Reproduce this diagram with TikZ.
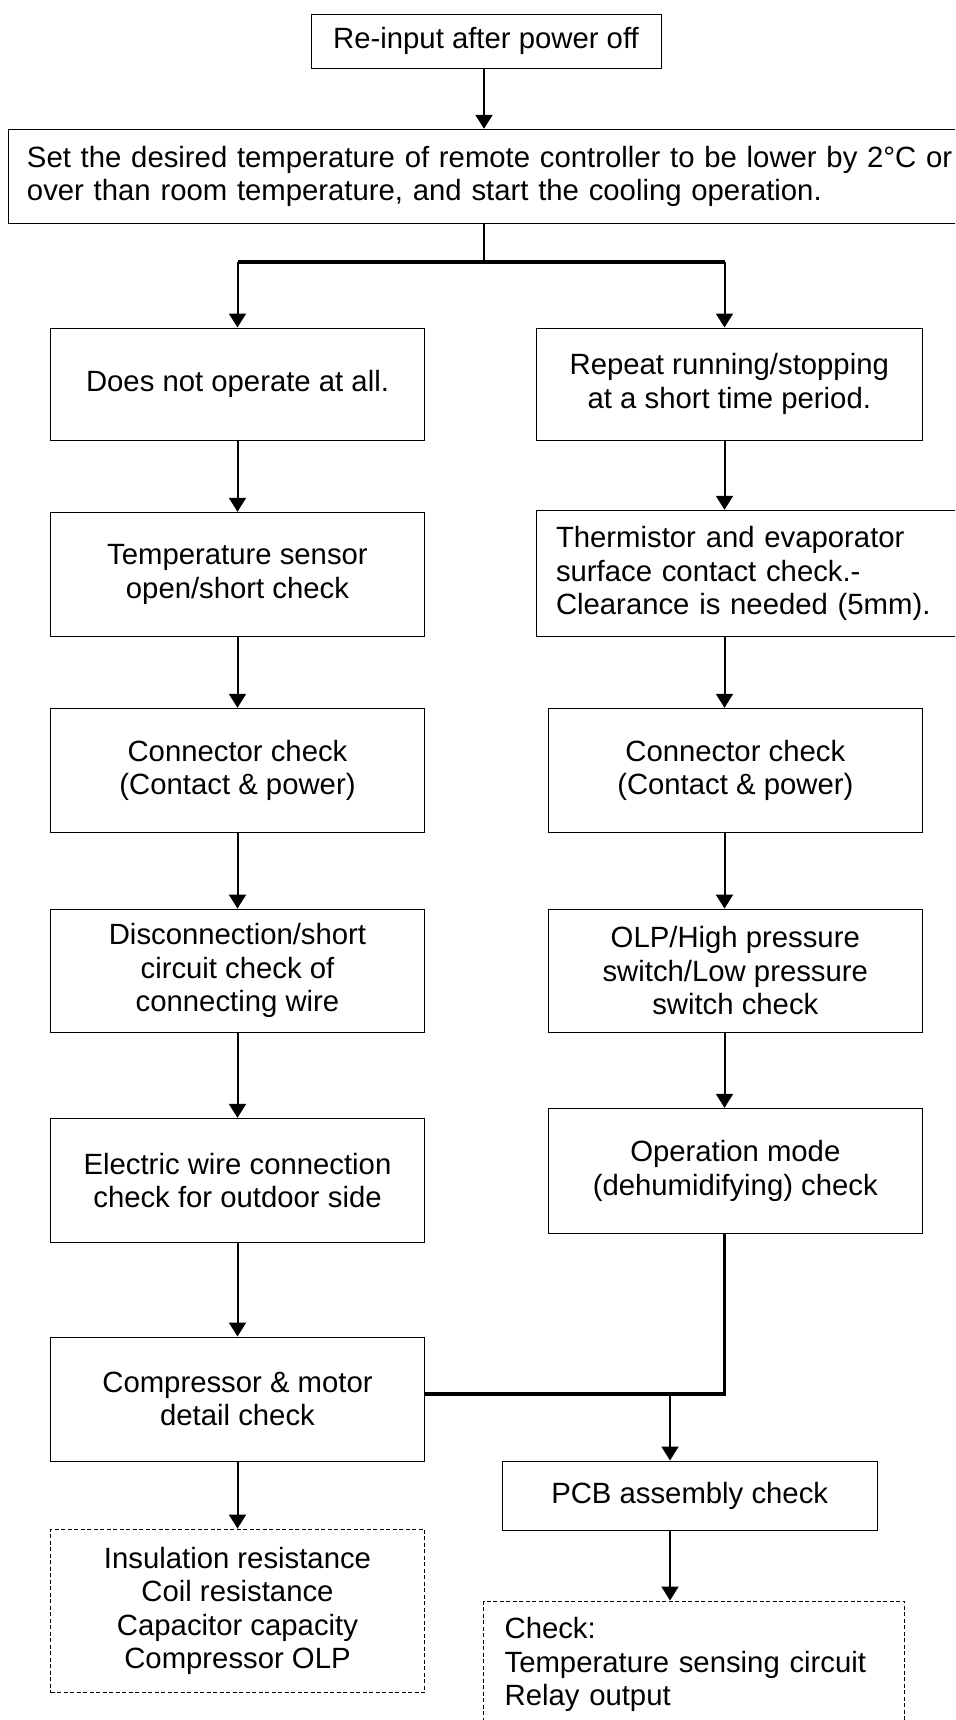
\documentclass[tikz,border=0pt]{standalone}
\usepackage{fontspec}
\setmainfont{Liberation Sans}
\usetikzlibrary{arrows.meta}

\begin{document}
\begin{tikzpicture}[x=1pt,y=-1pt,font=\fontsize{29.3}{33.5}\selectfont,line cap=butt,
  box/.style={draw,line width=1pt,inner sep=0pt,align=center},
  lbox/.style={box,minimum width=374pt,minimum height=124.4pt},
  rbox/.style={box,minimum width=374.6pt,minimum height=124.4pt},
  note/.style={box,dash pattern=on 4pt off 2.5pt},
  flow/.style={-{Triangle[length=14pt,width=17pt]},line width=2pt},
  trunk/.style={line width=3.2pt}]
\clip (0,0) rectangle (955,1720);
\node[box,minimum width=350pt,minimum height=54.3pt] (start) at (486,41.2) {Re-input after power off};
\node[box,align=left,text width=929pt,inner xsep=19pt,minimum height=94pt] (setpt) at (491.5,176.3) {Set the desired temperature of remote controller to be lower by 2°C or\\over than room temperature, and start the cooling operation.};
\node[lbox,minimum height=112pt] (l1) at (237.5,384) {Does not operate at all.};
\node[lbox] (l2) at (237.5,574.5) {Temperature sensor\\open/short check};
\node[lbox] (l3) at (237.5,770.5) {Connector check\\(Contact \& power)};
\node[lbox,minimum height=123.3pt] (l4) at (237.5,970.7) {Disconnection/short\\circuit check of\\connecting wire};
\node[lbox] (l5) at (237.5,1180.5) {Electric wire connection\\check for outdoor side};
\node[lbox,minimum height=124pt] (l6) at (237.5,1399) {Compressor \& motor\\detail check};
\node[note,minimum width=374pt,minimum height=163.5pt] (ld) at (237.5,1610.8) {Insulation resistance\\Coil resistance\\Capacitor capacity\\Compressor OLP};
\node[box,minimum width=386.6pt,minimum height=112pt] (r1) at (729.3,384) {Repeat running/stopping\\at a short time period.};
\node[box,align=left,text width=399pt,inner xsep=20pt,minimum height=126.4pt] (r2) at (755.5,573.5) {Thermistor and evaporator\\surface contact check.-\\Clearance is needed (5mm).};
\node[rbox] (r3) at (735.3,770.5) {Connector check\\(Contact \& power)};
\node[rbox,minimum height=123.3pt] (r4) at (735.3,970.7) {OLP/High pressure\\switch/Low pressure\\switch check};
\node[rbox,minimum height=124.7pt] (r5) at (735.3,1170.7) {Operation mode\\(dehumidifying) check};
\node[box,minimum width=374.6pt,minimum height=69.6pt] (pcb) at (689.7,1495.8) {PCB assembly check};
\node[note,align=left,text width=379.4pt,inner xsep=20.7pt,minimum height=127.4pt] (rd) at (694.3,1664.7) {Check:\\Temperature sensing circuit\\Relay output};
\coordinate (split) at (484,262);
\coordinate (rcol) at (724.5,0);
\coordinate (merge) at (670,1394);
\draw[flow] (start.south -| split) -- (setpt.north -| split);
\draw[line width=2pt] (setpt.south -| split) -- (split);
\draw[trunk] (l1.north |- split) -- (rcol |- split);
\draw[flow] (l1.north |- split) -- (l1.north);
\draw[flow] (rcol |- split) -- (rcol |- r1.north);
\draw[flow] (l1) -- (l2);
\draw[flow] (l2) -- (l3);
\draw[flow] (l3) -- (l4);
\draw[flow] (l4) -- (l5);
\draw[flow] (l5) -- (l6);
\draw[flow] (l6) -- (ld);
\draw[flow] (rcol |- r1.south) -- (rcol |- r2.north);
\draw[flow] (rcol |- r2.south) -- (rcol |- r3.north);
\draw[flow] (rcol |- r3.south) -- (rcol |- r4.north);
\draw[flow] (rcol |- r4.south) -- (rcol |- r5.north);
\draw[trunk] (rcol |- r5.south) |- (l6.east |- merge);
\draw[flow] (merge) -- (merge |- pcb.north);
\draw[flow] (merge |- pcb.south) -- (merge |- rd.north);
\end{tikzpicture}
\end{document}
